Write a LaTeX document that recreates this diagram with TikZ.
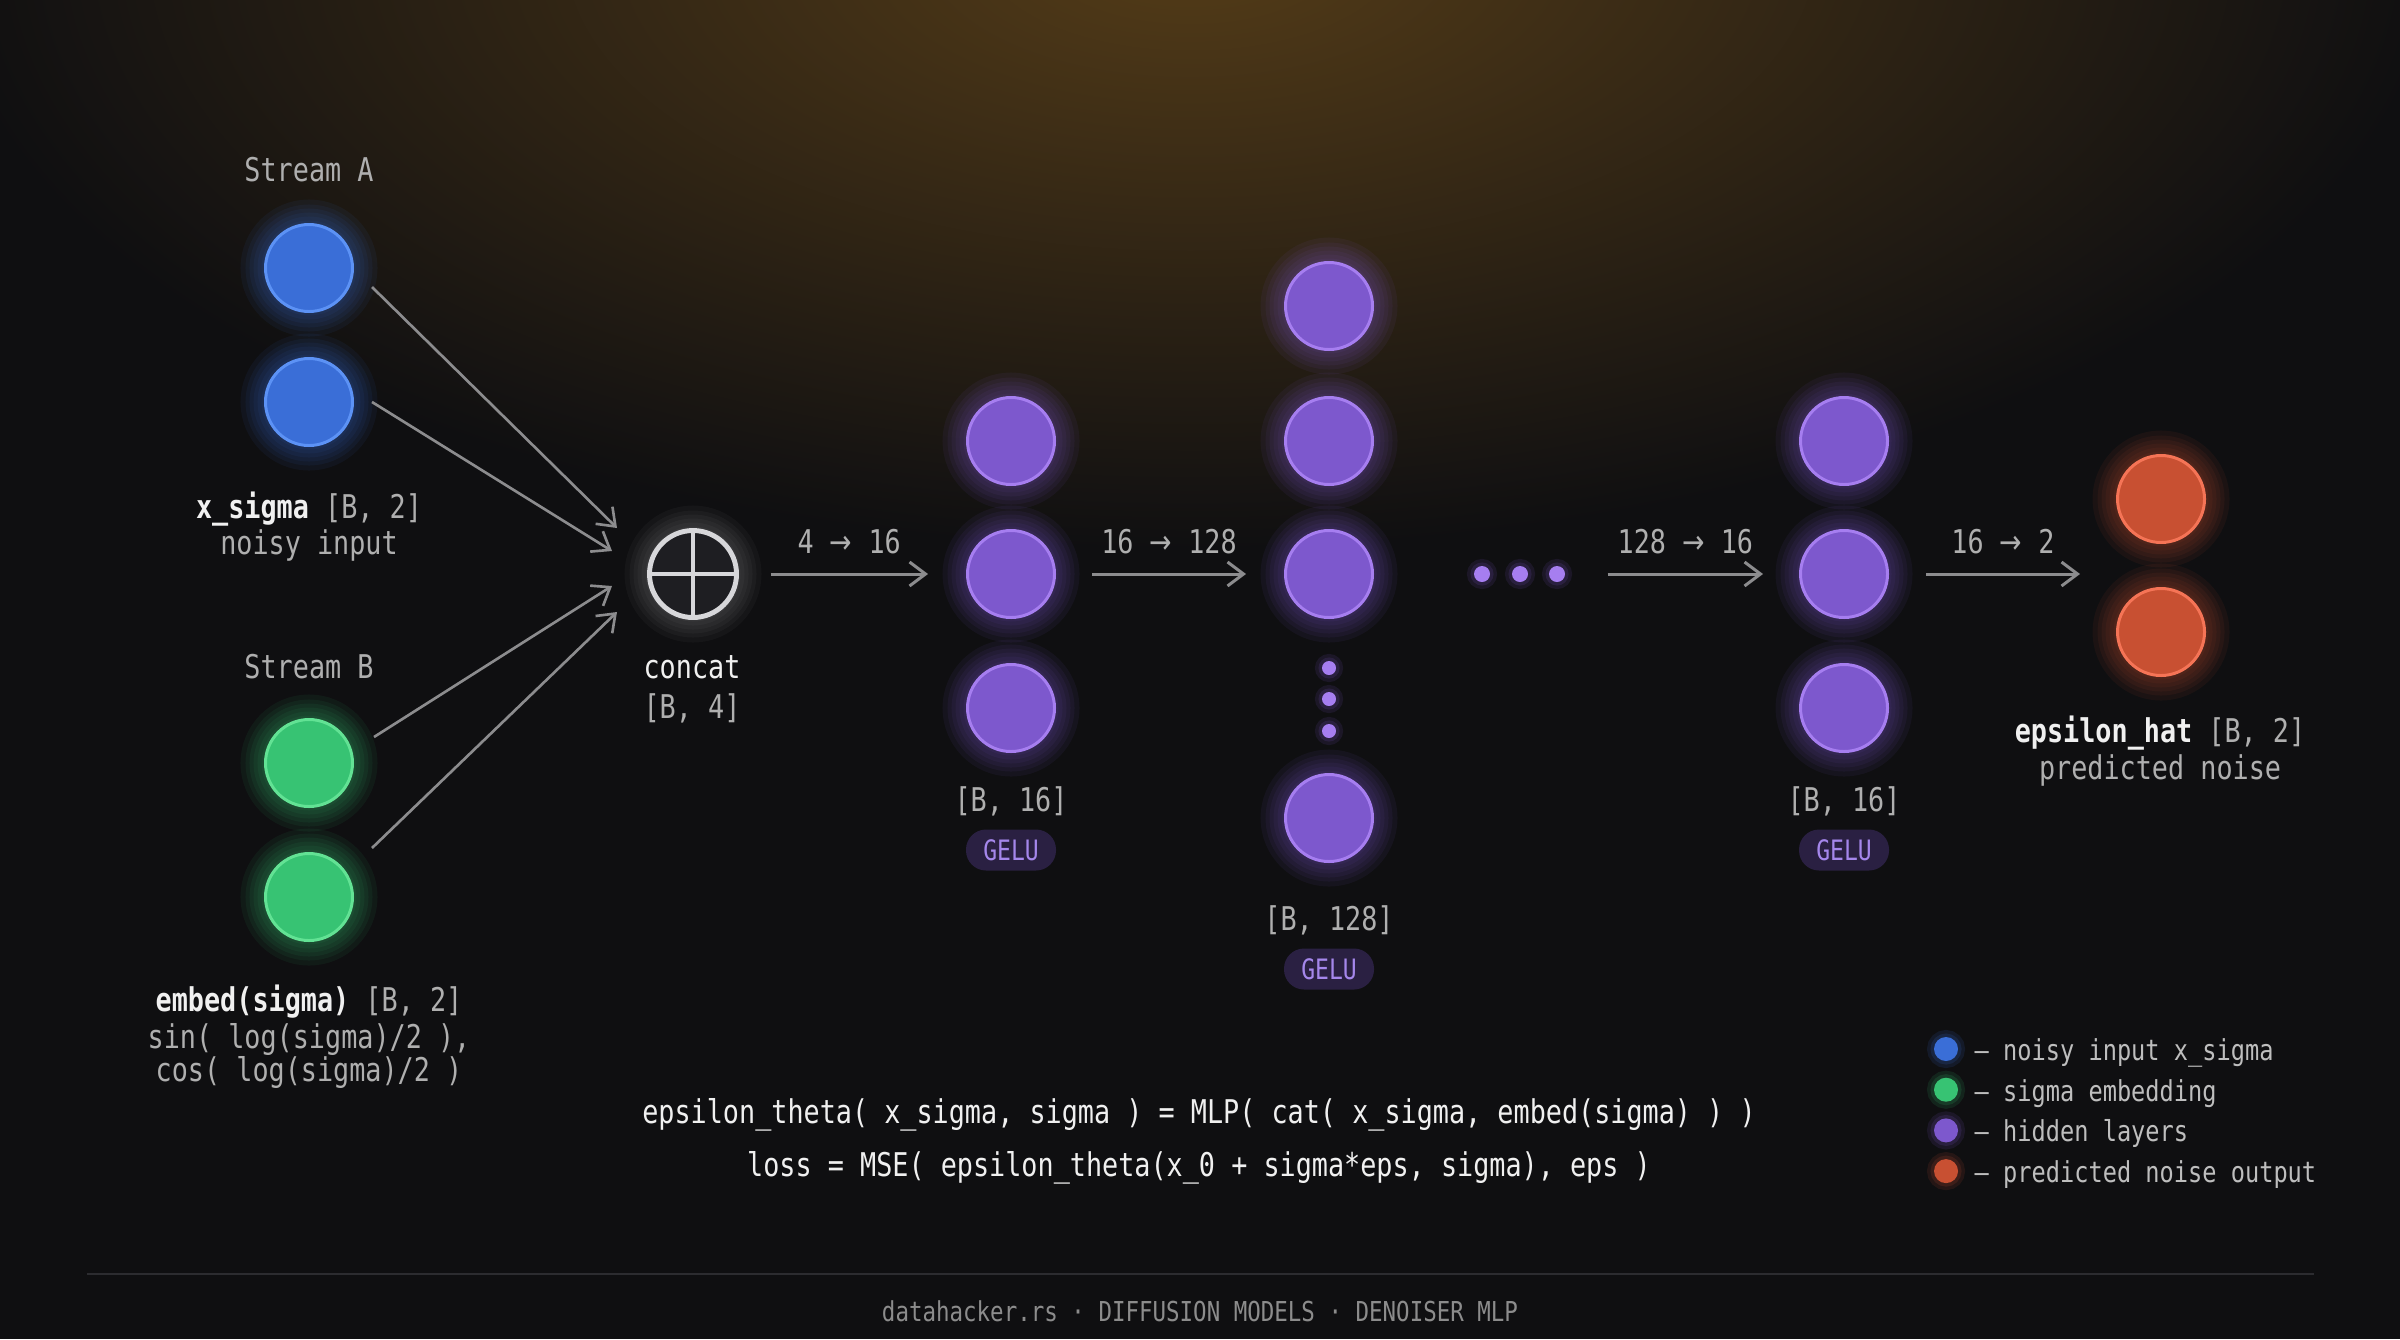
\documentclass[tikz,border=0pt]{standalone}
\usepackage{fontspec}
\setmainfont[FakeStretch=0.82]{DejaVu Sans Mono}
\newfontfamily\arrfont[FakeStretch=0.82]{DejaVu Sans}
\usetikzlibrary{arrows.meta}

\definecolor{bgc}{RGB}{15,15,17}
\definecolor{topglow}{RGB}{84,60,24}
\definecolor{nblue}{RGB}{58,110,215}
\definecolor{nblueL}{RGB}{92,146,245}
\definecolor{ngreen}{RGB}{55,195,115}
\definecolor{ngreenL}{RGB}{98,226,148}
\definecolor{npurple}{RGB}{125,88,205}
\definecolor{npurpleL}{RGB}{166,126,240}
\definecolor{nred}{RGB}{200,80,50}
\definecolor{nredL}{RGB}{245,116,86}
\definecolor{ringc}{RGB}{215,215,218}
\definecolor{mixfill}{RGB}{30,30,34}
\definecolor{arrc}{RGB}{140,140,142}
\definecolor{twhite}{RGB}{240,240,240}
\definecolor{tgray}{RGB}{175,175,175}
\definecolor{tlegend}{RGB}{190,190,190}
\definecolor{tfoot}{RGB}{140,140,140}
\definecolor{pillbg}{RGB}{42,32,66}
\definecolor{pilltx}{RGB}{165,135,235}
\definecolor{rulec}{RGB}{44,44,48}

\newcommand\ar{{\arrfont →}}

\pgfdeclarelayer{back}
\pgfsetlayers{back,main}

\tikzset{
  halo/.style 2 args={preaction={draw=#1,opacity=#2,line width=.5cm},
    preaction={draw=#1,opacity=#2,line width=.4cm},
    preaction={draw=#1,opacity=#2,line width=.32cm},
    preaction={draw=#1,opacity=#2,line width=.24cm},
    preaction={draw=#1,opacity=#2,line width=.16cm},
    preaction={draw=#1,opacity=#2,line width=.08cm}},
  sglow/.style={preaction={draw=#1,opacity=.12,line width=.14cm},
    preaction={draw=#1,opacity=.15,line width=.07cm}},
  neuron/.style={circle,minimum size=.87cm,inner sep=0pt,line width=.85pt,
    fill=#1,draw=#1L,halo={#1}{.07}},
  mdot/.style={circle,minimum size=#1,inner sep=0pt,fill=npurpleL,sglow=npurple},
  key/.style={circle,minimum size=.24cm,inner sep=0pt,fill=#1,sglow=#1},
  mix/.style={circle,minimum size=.87cm,inner sep=0pt,outer sep=0pt,
    line width=1.4pt,draw=ringc,fill=mixfill,halo={white}{.03}},
  lbl/.style={font=\fontsize{9.3}{11}\selectfont,text=#1,inner sep=0pt,
    text height=1.5ex,text depth=.3ex},
  lgd/.style={lbl=tlegend,font=\fontsize{8.2}{10}\selectfont,anchor=west},
  pill/.style={rounded corners=.2cm,fill=pillbg,text=pilltx,minimum width=.9cm,
    minimum height=.41cm,inner sep=0pt,font=\fontsize{8}{9}\selectfont},
  link/.style={draw=arrc,line width=.85pt,-{Straight Barb[length=1.6mm,width=2.4mm]}},
  inlink/.style={link,line width=.75pt}
}

\begin{document}
\begin{tikzpicture}
\useasboundingbox (0,0) rectangle (24,-13.39);

\node[lbl=tgray] (sa) at (3.09,-1.70) {Stream A};
\node[neuron=nblue] (a1) at (3.09,-2.68) {};
\node[neuron=nblue] (a2) at (3.09,-4.02) {};
\node[lbl=tgray] (xs) at (3.09,-5.07) {\textcolor{twhite}{\bfseries x\_sigma} [B, 2]};
\node[lbl=tgray] (xsd) at (3.09,-5.43) {noisy input};
\node[lbl=tgray] (sb) at (3.09,-6.67) {Stream B};
\node[neuron=ngreen] (b1) at (3.09,-7.63) {};
\node[neuron=ngreen] (b2) at (3.09,-8.97) {};
\node[lbl=tgray] (es) at (3.09,-10.00) {\textcolor{twhite}{\bfseries embed(sigma)} [B, 2]};
\node[lbl=tgray] (es1) at (3.09,-10.37) {sin( log(sigma)/2 ),};
\node[lbl=tgray] (es2) at (3.09,-10.70) {cos( log(sigma)/2 )};

\node[mix] (concat) at (6.93,-5.74) {};
\draw[ringc,line width=1.1pt] (concat.north) -- (concat.south) (concat.west) -- (concat.east);
\node[lbl=twhite] (cl) at (6.92,-6.67) {concat};
\node[lbl=tgray] (cs) at (6.92,-7.07) {[B, 4]};

\foreach \n/\sx/\sy/\ex/\ey in {a1/.63/-.19/-.76/.46, a2/.63/0/-.81/.23,
    b1/.65/.26/-.81/-.12, b2/.63/.49/-.76/-.38}
  \draw[inlink] ([shift={(\sx,\sy)}]\n.center) -- ([shift={(\ex,\ey)}]concat.center);

\foreach \y [count=\i] in {-4.41,-5.74,-7.08} \node[neuron=npurple] (h1\i) at (10.11,\y) {};
\foreach \y [count=\i] in {-3.06,-4.41,-5.74} \node[neuron=npurple] (h2\i) at (13.29,\y) {};
\node[neuron=npurple] (h24) at (13.29,-8.18) {};
\foreach \y [count=\i] in {-6.68,-6.99,-7.31} \node[mdot=.14cm] (v\i) at (13.29,\y) {};
\foreach \x [count=\i] in {14.82,15.20,15.57} \node[mdot=.16cm] (d\i) at (\x,-5.74) {};
\foreach \y [count=\i] in {-4.41,-5.74,-7.08} \node[neuron=npurple] (h3\i) at (18.44,\y) {};
\node[neuron=nred] (o1) at (21.61,-4.99) {};
\node[neuron=nred] (o2) at (21.61,-6.32) {};

\node[lbl=tgray] (s1) at (10.11,-8.00) {[B, 16]};
\node[pill] (g1) at (10.11,-8.50) {GELU};
\node[lbl=tgray] (s2) at (13.29,-9.19) {[B, 128]};
\node[pill] (g2) at (13.29,-9.69) {GELU};
\node[lbl=tgray] (s3) at (18.44,-8.00) {[B, 16]};
\node[pill] (g3) at (18.44,-8.50) {GELU};
\node[lbl=tgray] (ol) at (21.60,-7.31) {\textcolor{twhite}{\bfseries epsilon\_hat} [B, 2]};
\node[lbl=tgray] (od) at (21.60,-7.68) {predicted noise};

\coordinate (oin) at (h32 -| o1.west);
\draw[link] ([xshift=.34cm]concat.east) -- ([xshift=-.38cm]h12.west)
  node[midway,yshift=.32cm,lbl=tgray] {4 \ar{} 16};
\draw[link] ([xshift=.36cm]h12.east) -- ([xshift=-.38cm]h23.west)
  node[midway,yshift=.32cm,lbl=tgray] {16 \ar{} 128};
\draw[link] ([xshift=.42cm]d3.east) -- ([xshift=-.36cm]h32.west)
  node[midway,yshift=.32cm,lbl=tgray] {128 \ar{} 16};
\draw[link] ([xshift=.37cm]h32.east) -- ([xshift=-.36cm]oin)
  node[midway,yshift=.32cm,lbl=tgray] {16 \ar{} 2};

\node[lbl=twhite] (f1) at (11.99,-11.12) {epsilon\_theta( x\_sigma, sigma ) = MLP( cat( x\_sigma, embed(sigma) ) )};
\node[lbl=twhite] (f2) at (11.99,-11.65) {loss = MSE( epsilon\_theta(x\_0 + sigma*eps, sigma), eps )};

\foreach \c/\t [count=\i] in {nblue/noisy input x\_sigma, ngreen/sigma embedding,
    npurple/hidden layers, nred/predicted noise output} {
  \node[key=\c] (k\i) at (19.46,{-10.49-0.407*(\i-1)}) {};
  \node[lgd] (kt\i) at (19.74,{-10.49-0.407*(\i-1)}) {— \t};
}

\draw[rulec,line width=.6pt] (0.87,-12.74) -- (23.14,-12.74);
\node[lbl=tfoot,font=\fontsize{7.8}{9}\selectfont] (ft) at (12.0,-13.10)
  {datahacker.rs · DIFFUSION MODELS · DENOISER MLP};

\begin{pgfonlayer}{back}
\fill[bgc] (0,0) rectangle (24,-13.39);
\begin{scope}
\clip (0,0) rectangle (24,-13.39);
\shade[inner color=topglow,outer color=bgc] (11.9,0.5) ellipse (12.5 and 6);
\end{scope}
\end{pgfonlayer}
\end{tikzpicture}
\end{document}
